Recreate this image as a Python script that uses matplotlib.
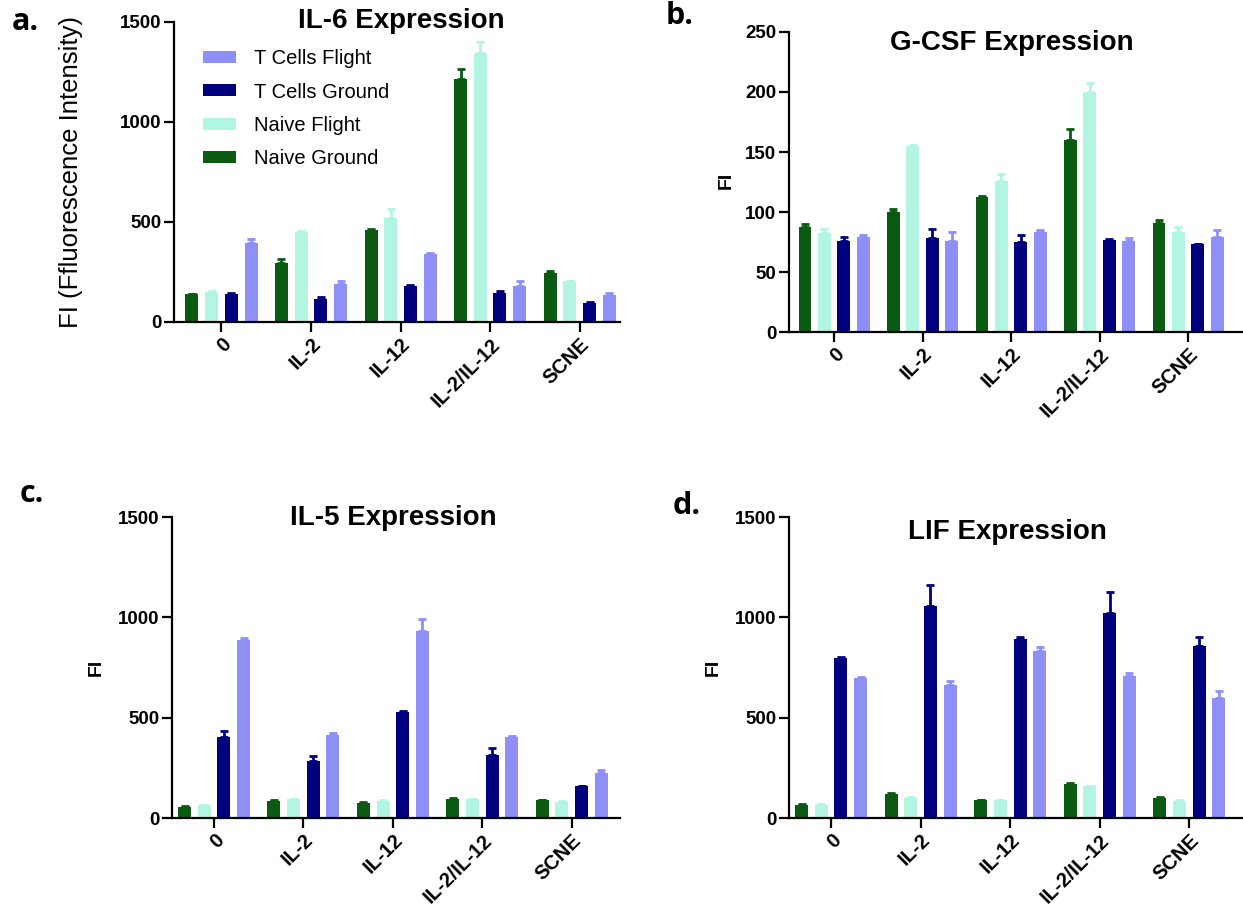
import matplotlib
matplotlib.use('Agg')
import matplotlib.pyplot as plt
import numpy as np

plt.rcParams['font.family'] = ['Liberation Sans', 'DejaVu Sans']

categories = ['0', 'IL-2', 'IL-12', 'IL-2/IL-12', 'SCNE']
series = ['Naive Ground', 'Naive Flight', 'T Cells Ground', 'T Cells Flight']
colors = ['#0a5a12', '#b2f5e2', '#00007e', '#8e8ff7']

# IL-6
il6_ng = [140, 295, 461, 1214, 245]
il6_nf = [148, 450, 520, 1344, 203]
il6_tg = [142, 115, 181, 145, 95]
il6_tf = [395, 191, 340, 178, 133]
il6_ng_err = [2, 20, 3, 50, 8]
il6_nf_err = [9, 3, 44, 55, 3]
il6_tg_err = [5, 8, 3, 11, 3]
il6_tf_err = [20, 15, 4, 25, 12]

# G-CSF
gcsf_ng = [87.9, 100.3, 112.8, 159.9, 91.2]
gcsf_nf = [82.3, 155.2, 125.8, 199.6, 83.1]
gcsf_tg = [76.2, 78.2, 74.6, 76.8, 73.2]
gcsf_tf = [79.5, 75.9, 83.1, 76.2, 79.5]
gcsf_ng_err = [2, 2.2, 0.8, 8.9, 2.2]
gcsf_nf_err = [3.3, 0.6, 5.9, 8, 4.8]
gcsf_tg_err = [3.3, 7.4, 6.3, 0.8, 0.5]
gcsf_tf_err = [1.1, 7.8, 2, 2.5, 5.6]

# IL-5
il5_ng = [55, 85, 75, 97, 88]
il5_nf = [63, 93, 85, 93, 80]
il5_tg = [405, 283, 526, 316, 158]
il5_tf = [888, 416, 932, 405, 225]
il5_ng_err = [4, 4, 3, 4, 3]
il5_nf_err = [3, 4, 3, 3, 3]
il5_tg_err = [28, 27, 8, 35, 2]
il5_tf_err = [8, 10, 60, 5, 16]

# LIF
lif_ng = [67, 118, 88, 168, 100]
lif_nf = [67, 102, 88, 158, 85]
lif_tg = [796, 1054, 892, 1024, 859]
lif_tf = [699, 663, 832, 709, 596]
lif_ng_err = [5, 7, 4, 4, 4]
lif_nf_err = [3, 3, 3, 3, 3]
lif_tg_err = [8, 105, 12, 102, 42]
lif_tf_err = [5, 21, 19, 15, 38]

W, H = 1243, 922
fig = plt.figure(figsize=(W / 100, H / 100), dpi=100)


def px_axes(left, top, right, bottom):
    return fig.add_axes([left / W, 1 - bottom / H, (right - left) / W, (bottom - top) / H])


def panel(ax, vals, errs, ymax, yticks, xlim):
    x = np.arange(len(categories))
    pitch = 0.22
    for i, (v, e) in enumerate(zip(vals, errs)):
        off = (i - 1.5) * pitch
        ax.bar(x + off, v, width=0.145, color=colors[i], label=series[i],
               yerr=[np.zeros(len(e)), e],
               error_kw=dict(ecolor=colors[i], elinewidth=2, capsize=3, capthick=2))
    ax.set_xlim(xlim)
    ax.set_ylim(0, ymax)
    ax.set_yticks(yticks)
    ax.set_xticks(x)
    ax.set_xticklabels(categories, rotation=45, ha='right', rotation_mode='anchor',
                       fontsize=14.5, fontweight='bold')
    for lab in ax.get_yticklabels():
        lab.set_fontsize(13.5)
        lab.set_fontweight('bold')
    for s in ['top', 'right']:
        ax.spines[s].set_visible(False)
    for s in ['left', 'bottom']:
        ax.spines[s].set_linewidth(1.6)
    ax.tick_params(axis='both', width=1.6, length=7, pad=2)
    ax.spines['left'].set_bounds(0, ymax)


ax_a = px_axes(174, 22, 620, 322)
panel(ax_a, [il6_ng, il6_nf, il6_tg, il6_tf],
      [il6_ng_err, il6_nf_err, il6_tg_err, il6_tf_err],
      1500, [0, 500, 1000, 1500], (-0.53, 4.45))
ax_a.set_ylabel('FI (Ffluorescence Intensity)', fontsize=18.5)
ax_a.yaxis.set_label_coords(-0.205, 0.5)
ax_a.text(0.509, 1.005, 'IL-6 Expression', transform=ax_a.transAxes, ha='center',
          va='center', fontsize=20, fontweight='bold')
h, l = ax_a.get_legend_handles_labels()
ax_a.legend(h[::-1], l[::-1], loc='upper left', bbox_to_anchor=(0.065, 0.91),
            frameon=False, fontsize=14.5, handlelength=1.65, handleheight=0.55,
            labelspacing=0.72, handletextpad=0.9, borderpad=0, borderaxespad=0)

ax_b = px_axes(789, 32, 1243, 332)
panel(ax_b, [gcsf_ng, gcsf_nf, gcsf_tg, gcsf_tf],
      [gcsf_ng_err, gcsf_nf_err, gcsf_tg_err, gcsf_tf_err],
      250, [0, 50, 100, 150, 200, 250], (-0.51, 4.62))
ax_b.set_ylabel('FI', fontsize=14, fontweight='bold')
ax_b.yaxis.set_label_coords(-0.119, 0.507)
ax_b.text(0.49, 0.963, 'G-CSF Expression', transform=ax_b.transAxes, ha='center',
          va='center', fontsize=20, fontweight='bold')

ax_c = px_axes(172, 517, 620, 818)
panel(ax_c, [il5_ng, il5_nf, il5_tg, il5_tf],
      [il5_ng_err, il5_nf_err, il5_tg_err, il5_tf_err],
      1500, [0, 500, 1000, 1500], (-0.47, 4.54))
ax_c.set_ylabel('FI', fontsize=14, fontweight='bold')
ax_c.yaxis.set_label_coords(-0.15, 0.5)
ax_c.text(0.493, 0.997, 'IL-5 Expression', transform=ax_c.transAxes, ha='center',
          va='center', fontsize=20, fontweight='bold')

ax_d = px_axes(789, 517, 1243, 818)
panel(ax_d, [lif_ng, lif_nf, lif_tg, lif_tf],
      [lif_ng_err, lif_nf_err, lif_tg_err, lif_tf_err],
      1500, [0, 500, 1000, 1500], (-0.47, 4.6))
ax_d.set_ylabel('FI', fontsize=14, fontweight='bold')
ax_d.yaxis.set_label_coords(-0.148, 0.5)
ax_d.text(0.482, 0.95, 'LIF Expression', transform=ax_d.transAxes, ha='center',
          va='center', fontsize=20, fontweight='bold')

letter_kw = dict(fontsize=22, fontweight='bold', family=['Open Sans', 'DejaVu Sans'],
                 ha='left', va='center')
fig.text(12 / W, 1 - 22 / H, 'a.', **letter_kw)
fig.text(666 / W, 1 - 16 / H, 'b.', **letter_kw)
fig.text(20 / W, 1 - 494 / H, 'c.', **letter_kw)
fig.text(673 / W, 1 - 506 / H, 'd.', **letter_kw)

fig.savefig('out.png', dpi=100)
